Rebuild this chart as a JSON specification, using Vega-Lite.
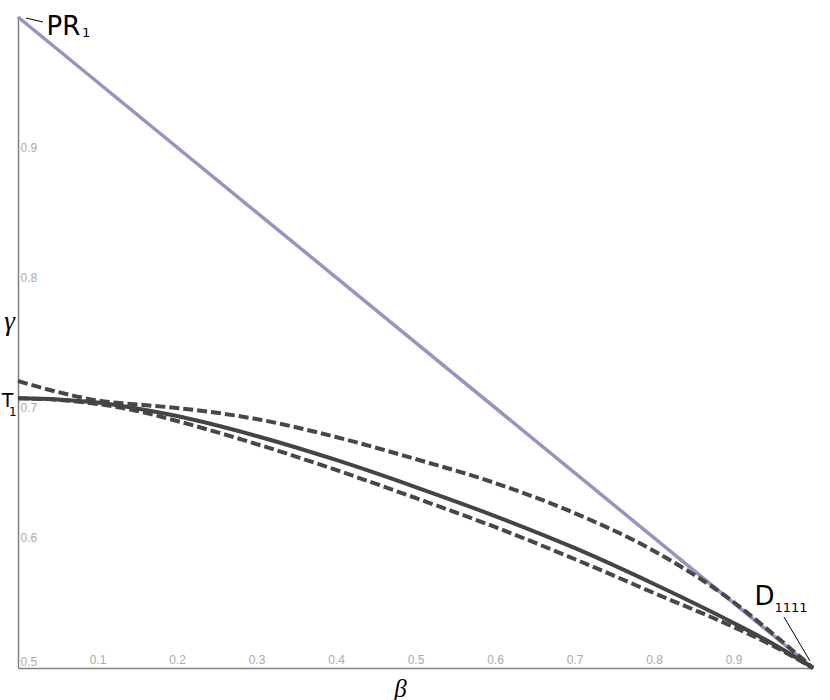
{
  "$schema": "https://vega.github.io/schema/vega-lite/v6.json",
  "width": 795,
  "height": 651,
  "autosize": {"type": "none"},
  "padding": {"left": 18, "top": 17, "right": 17, "bottom": 32},
  "background": "white",
  "config": {"view": {"stroke": null}},
  "datasets": {
    "curves": [
      {"series": "PR", "beta": 0, "gamma": 1},
      {"series": "PR", "beta": 1, "gamma": 0.5},
      {"series": "upper", "beta": 0, "gamma": 0.7204},
      {"series": "upper", "beta": 0.05, "gamma": 0.712},
      {"series": "upper", "beta": 0.1, "gamma": 0.7055},
      {"series": "upper", "beta": 0.15, "gamma": 0.7024},
      {"series": "upper", "beta": 0.2, "gamma": 0.6997},
      {"series": "upper", "beta": 0.3, "gamma": 0.6912},
      {"series": "upper", "beta": 0.4, "gamma": 0.6774},
      {"series": "upper", "beta": 0.5, "gamma": 0.6605},
      {"series": "upper", "beta": 0.6, "gamma": 0.6421},
      {"series": "upper", "beta": 0.7, "gamma": 0.619},
      {"series": "upper", "beta": 0.8, "gamma": 0.5899},
      {"series": "upper", "beta": 0.9, "gamma": 0.5507},
      {"series": "upper", "beta": 0.95, "gamma": 0.5261},
      {"series": "upper", "beta": 1, "gamma": 0.5},
      {"series": "lower", "beta": 0, "gamma": 0.7071},
      {"series": "lower", "beta": 0.05, "gamma": 0.706},
      {"series": "lower", "beta": 0.1, "gamma": 0.7028},
      {"series": "lower", "beta": 0.15, "gamma": 0.6974},
      {"series": "lower", "beta": 0.2, "gamma": 0.6897},
      {"series": "lower", "beta": 0.3, "gamma": 0.6720},
      {"series": "lower", "beta": 0.4, "gamma": 0.6521},
      {"series": "lower", "beta": 0.5, "gamma": 0.6306},
      {"series": "lower", "beta": 0.6, "gamma": 0.6083},
      {"series": "lower", "beta": 0.7, "gamma": 0.5837},
      {"series": "lower", "beta": 0.8, "gamma": 0.5576},
      {"series": "lower", "beta": 0.9, "gamma": 0.5315},
      {"series": "lower", "beta": 0.95, "gamma": 0.5169},
      {"series": "lower", "beta": 1, "gamma": 0.5},
      {"series": "solid", "beta": 0, "gamma": 0.7071},
      {"series": "solid", "beta": 0.05, "gamma": 0.7063},
      {"series": "solid", "beta": 0.1, "gamma": 0.7039},
      {"series": "solid", "beta": 0.15, "gamma": 0.6993},
      {"series": "solid", "beta": 0.2, "gamma": 0.6935},
      {"series": "solid", "beta": 0.3, "gamma": 0.6782},
      {"series": "solid", "beta": 0.4, "gamma": 0.6598},
      {"series": "solid", "beta": 0.5, "gamma": 0.6390},
      {"series": "solid", "beta": 0.6, "gamma": 0.6167},
      {"series": "solid", "beta": 0.7, "gamma": 0.5922},
      {"series": "solid", "beta": 0.8, "gamma": 0.5645},
      {"series": "solid", "beta": 0.9, "gamma": 0.5346},
      {"series": "solid", "beta": 0.95, "gamma": 0.5184},
      {"series": "solid", "beta": 1, "gamma": 0.5}
    ],
    "bigText": [
      {"beta": 0.0358, "gamma": 0.9862, "text": "PR"},
      {"beta": 0.9264, "gamma": 0.5484, "text": "D"}
    ],
    "midText": [
      {"beta": -0.0205, "gamma": 0.7005, "text": "T"}
    ],
    "subText": [
      {"beta": 0.0805, "gamma": 0.9846, "text": "1"},
      {"beta": 0.9516, "gamma": 0.543, "text": "1111"}
    ],
    "tSub": [
      {"beta": -0.0112, "gamma": 0.6938, "text": "1"}
    ],
    "leaders": [
      {"beta": 0.0101, "gamma": 0.9992, "beta2": 0.0314, "gamma2": 0.9962},
      {"beta": 0.9635, "gamma": 0.5392, "beta2": 0.9962, "gamma2": 0.5054}
    ]
  },
  "layer": [
    {
      "data": {"name": "curves"},
      "transform": [{"filter": "datum.series === 'PR'"}],
      "mark": {"type": "line", "color": "#9e90c0", "strokeWidth": 3.5},
      "encoding": {
        "x": {
          "field": "beta", "type": "quantitative",
          "scale": {"domain": [0, 1], "nice": false, "zero": false},
          "axis": {
            "values": [0.1, 0.2, 0.3, 0.4, 0.5, 0.6, 0.7, 0.8, 0.9],
            "format": ".1f",
            "ticks": false, "tickSize": 0, "grid": false,
            "domainColor": "#808080", "domainWidth": 1.5,
            "labelBaseline": "bottom", "labelPadding": -2,
            "labelColor": "#aaaaaa", "labelFontSize": 12, "labelFont": "Liberation Sans",
            "labelFlush": false,
            "title": "β", "titleFont": "Liberation Serif", "titleFontStyle": "italic",
            "titleFontWeight": "normal", "titleFontSize": 25, "titleColor": "black",
            "titleX": 382, "titleY": 20, "titleAlign": "center", "titleBaseline": "middle"
          }
        },
        "y": {
          "field": "gamma", "type": "quantitative",
          "scale": {"domain": [0.5, 1], "nice": false, "zero": false},
          "axis": {
            "values": [0.5, 0.6, 0.7, 0.8, 0.9],
            "format": ".1f",
            "ticks": false, "tickSize": 0, "grid": false,
            "domainColor": "#808080", "domainWidth": 1.5,
            "labelAlign": "left", "labelPadding": -2, "labelFlush": true,
            "labelColor": "#aaaaaa", "labelFontSize": 12, "labelFont": "Liberation Sans",
            "title": "γ", "titleFont": "Liberation Serif", "titleFontStyle": "italic",
            "titleFontWeight": "normal", "titleFontSize": 27, "titleColor": "black",
            "titleAngle": 0, "titleX": -9, "titleY": 304, "titleAlign": "center", "titleBaseline": "middle"
          }
        }
      }
    },
    {
      "data": {"name": "curves"},
      "transform": [{"filter": "datum.series === 'upper' || datum.series === 'lower'"}],
      "mark": {"type": "line", "color": "#474747", "strokeWidth": 4, "strokeDash": [10, 4], "interpolate": "monotone"},
      "encoding": {
        "x": {"field": "beta", "type": "quantitative"},
        "y": {"field": "gamma", "type": "quantitative"},
        "detail": {"field": "series"}
      }
    },
    {
      "data": {"name": "curves"},
      "transform": [{"filter": "datum.series === 'solid'"}],
      "mark": {"type": "line", "color": "#444444", "strokeWidth": 4, "interpolate": "monotone"},
      "encoding": {
        "x": {"field": "beta", "type": "quantitative"},
        "y": {"field": "gamma", "type": "quantitative"}
      }
    },
    {
      "data": {"name": "leaders"},
      "mark": {"type": "rule", "color": "black", "strokeWidth": 1},
      "encoding": {
        "x": {"field": "beta", "type": "quantitative"},
        "y": {"field": "gamma", "type": "quantitative"},
        "x2": {"field": "beta2"},
        "y2": {"field": "gamma2"}
      }
    },
    {
      "data": {"name": "bigText"},
      "mark": {"type": "text", "font": "DejaVu Sans", "fontSize": 26, "align": "left", "baseline": "alphabetic", "color": "black"},
      "encoding": {
        "x": {"field": "beta", "type": "quantitative"},
        "y": {"field": "gamma", "type": "quantitative"},
        "text": {"field": "text"}
      }
    },
    {
      "data": {"name": "midText"},
      "mark": {"type": "text", "font": "DejaVu Sans", "fontSize": 19, "align": "left", "baseline": "alphabetic", "color": "black"},
      "encoding": {
        "x": {"field": "beta", "type": "quantitative"},
        "y": {"field": "gamma", "type": "quantitative"},
        "text": {"field": "text"}
      }
    },
    {
      "data": {"name": "subText"},
      "mark": {"type": "text", "font": "DejaVu Sans", "fontSize": 13, "align": "left", "baseline": "alphabetic", "color": "black"},
      "encoding": {
        "x": {"field": "beta", "type": "quantitative"},
        "y": {"field": "gamma", "type": "quantitative"},
        "text": {"field": "text"}
      }
    },
    {
      "data": {"name": "tSub"},
      "mark": {"type": "text", "font": "DejaVu Sans", "fontSize": 12, "align": "left", "baseline": "alphabetic", "color": "black"},
      "encoding": {
        "x": {"field": "beta", "type": "quantitative"},
        "y": {"field": "gamma", "type": "quantitative"},
        "text": {"field": "text"}
      }
    }
  ]
}
